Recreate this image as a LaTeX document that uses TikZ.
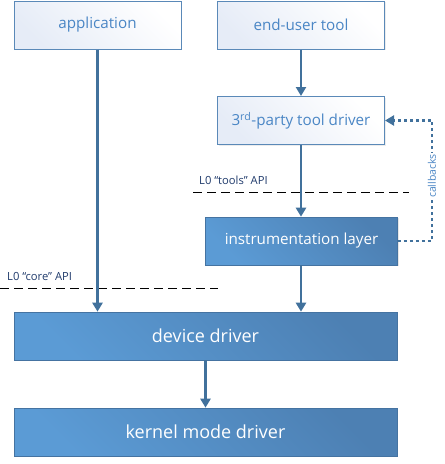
\documentclass[tikz,border=0pt]{standalone}
\usepackage{fontspec}
\setmainfont{Open Sans}
\usetikzlibrary{arrows.meta,shadows}
\definecolor{boxline}{HTML}{5A89B8}
\definecolor{txtblue}{HTML}{4A86C5}
\definecolor{arr}{HTML}{41719C}
\definecolor{bluetl}{HTML}{5B9BD5}
\definecolor{bluebr}{HTML}{4D80B3}
\definecolor{paletl}{HTML}{E6ECF7}
\definecolor{labnavy}{HTML}{1F3A6B}
\tikzset{
  whitebox/.style={draw=boxline, line width=1pt, left color=paletl, right color=white, shading angle=135,
    minimum width=167pt, minimum height=48pt, text=txtblue, font=\fontsize{15.2}{18}\selectfont,
    drop shadow={opacity=0.15, shadow xshift=1pt, shadow yshift=-1pt}},
  bluebox/.style={draw=bluebr!90!black, line width=0.6pt, left color=bluetl, right color=bluebr, shading angle=135,
    text=white, drop shadow={opacity=0.2, shadow xshift=1pt, shadow yshift=-1pt}},
  flow/.style={draw=arr, line width=2.4pt, -{Triangle[width=10pt,length=9pt]}},
  apiline/.style={draw=black, line width=1pt, dash pattern=on 9pt off 5pt},
  apilab/.style={text=labnavy, font=\fontsize{11.2}{13}\selectfont, anchor=south west, inner sep=0pt},
  cbline/.style={draw=arr, line width=2.4pt, dash pattern=on 3pt off 3pt, -{Triangle[width=10pt,length=9pt]}},
}
\begin{document}
\begin{tikzpicture}[x=1pt,y=-1pt]
\useasboundingbox (0,0) rectangle (445,464);
\node[whitebox] (app) at (97.5,25) {application};
\node[whitebox] (eut) at (301,25) {end-user tool};
\node[whitebox] (tdr) at (301,120.5) {3\textsuperscript{rd}-party tool driver};
\node[bluebox, minimum width=192pt, minimum height=48pt, font=\fontsize{15.2}{18}\selectfont] (ins) at (301.5,241) {instrumentation layer};
\node[bluebox, minimum width=383pt, minimum height=48pt, font=\fontsize{18}{21}\selectfont] (dev) at (205.5,336) {device driver};
\node[bluebox, minimum width=383pt, minimum height=48pt, font=\fontsize{18}{21}\selectfont] (kmd) at (205.5,432) {kernel mode driver};
% API lines
\draw[apiline] (193,192) -- (409,192);
\node[apilab] (tlab) at (199,185) {L0 “tools” API};
\draw[apiline] (0,288) -- (218,288);
\node[apilab] (clab) at (7,281) {L0 “core” API};
% flows
\draw[flow] (app.south) -- (app.south |- dev.north);
\draw[flow] (eut.south) -- (tdr.north);
\draw[flow] (tdr.south) -- (tdr.south |- ins.north);
\draw[flow] (ins.south -| tdr.south) -- (tdr.south |- dev.north);
\draw[flow] (dev.south) -- (kmd.north);
% callbacks
\coordinate (cb1) at (432,241);
\coordinate (cb2) at (432,120.5);
\draw[cbline] (ins.east) -- (cb1) -- (cb2) -- (tdr.east);
\node[rotate=90, fill=white, text=txtblue, inner sep=1pt, font=\fontsize{10.5}{12}\selectfont] (cblab) at (432,176) {callbacks};
\end{tikzpicture}
\end{document}
